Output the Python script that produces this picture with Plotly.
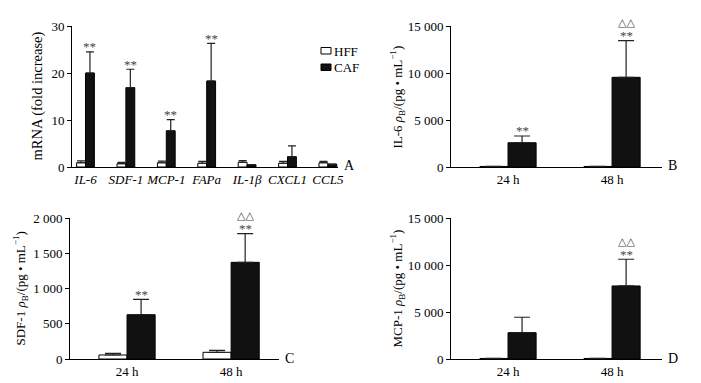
import plotly.graph_objects as go

W, H = 701, 383

# ---------------- data ----------------
genes = ["IL-6", "SDF-1", "MCP-1", "FAPa", "IL-1β", "CXCL1", "CCL5"]
hff_mrna = [0.9, 0.7, 0.9, 0.8, 1.0, 0.8, 0.9]
hff_mrna_err = [0.4, 0.3, 0.35, 0.4, 0.35, 0.4, 0.3]
caf_mrna = [20.0, 16.9, 7.7, 18.3, 0.5, 2.2, 0.6]
caf_mrna_err = [4.5, 3.9, 2.4, 8.0, 0.0, 2.3, 0.0]
sig_mrna = ["**", "**", "**", "**", "", "", ""]
mrna_ticks = [0, 10, 20, 30]

times = ["24 h", "48 h"]
il6_hff = [60, 60]
il6_hff_err = [0, 0]
il6_caf = [2580, 9540]
il6_caf_err = [720, 3900]
il6_sig = ["**", "**"]
il6_sig2 = ["", "△△"]

sdf1_hff = [57, 95]
sdf1_hff_err = [23, 28]
sdf1_caf = [628, 1371]
sdf1_caf_err = [219, 407]
sdf1_sig = ["**", "**"]
sdf1_sig2 = ["", "△△"]

mcp1_hff = [60, 60]
mcp1_hff_err = [0, 0]
mcp1_caf = [2800, 7770]
mcp1_caf_err = [1640, 2840]
mcp1_sig = ["", "**"]
mcp1_sig2 = ["", "△△"]

conc_ticks = [0, 5000, 10000, 15000]
conc_ticktext = ["0", "5 000", "10 000", "15 000"]
sdf_ticks = [0, 500, 1000, 1500, 2000]
sdf_ticktext = ["0", "500", "1 000", "1 500", "2 000"]

series_names = ["HFF", "CAF"]

FONT = "Liberation Serif"
SIGC = "#444444"

fig = go.Figure()


def px_x(p):
    return p / W


def px_y(p):
    return 1 - p / H


panels = [
    dict(cats=genes, hff=hff_mrna, hffe=hff_mrna_err, caf=caf_mrna, cafe=caf_mrna_err,
         sig=sig_mrna, sig2=[""] * 7, xd=(72, 338), yd=(26, 167), w=0.22,
         xr=[-0.334, 6.25], yr=[0, 30], tv=mrna_ticks, tt=[str(t) for t in mrna_ticks],
         letter="A", cap=4, title="mRNA (fold increase)", tx=37, tsize=14.5, italic=True),
    dict(cats=times, hff=il6_hff, hffe=il6_hff_err, caf=il6_caf, cafe=il6_caf_err,
         sig=il6_sig, sig2=il6_sig2, xd=(451, 662), yd=(26, 167), w=0.27,
         xr=[-0.548, 1.48], yr=[0, 15000], tv=conc_ticks, tt=conc_ticktext,
         letter="B", cap=8, title="IL-6 <i>ρ</i><sub>B</sub>/(pg • mL<sup>−1</sup>)", tx=397,
         tsize=13, italic=False),
    dict(cats=times, hff=sdf1_hff, hffe=sdf1_hff_err, caf=sdf1_caf, cafe=sdf1_caf_err,
         sig=sdf1_sig, sig2=sdf1_sig2, xd=(70, 279), yd=(218, 359), w=0.27,
         xr=[-0.548, 1.46], yr=[0, 2000], tv=sdf_ticks, tt=sdf_ticktext,
         letter="C", cap=8, title="SDF-1 <i>ρ</i><sub>B</sub>/(pg • mL<sup>−1</sup>)", tx=20,
         tsize=13, italic=False),
    dict(cats=times, hff=mcp1_hff, hffe=mcp1_hff_err, caf=mcp1_caf, cafe=mcp1_caf_err,
         sig=mcp1_sig, sig2=mcp1_sig2, xd=(451, 662), yd=(218, 359), w=0.27,
         xr=[-0.548, 1.48], yr=[0, 15000], tv=conc_ticks, tt=conc_ticktext,
         letter="D", cap=8, title="MCP-1 <i>ρ</i><sub>B</sub>/(pg • mL<sup>−1</sup>)", tx=397,
         tsize=13, italic=False),
]

annotations = []
layout_axes = {}

for k, p in enumerate(panels):
    n = k + 1
    xa = "x" if n == 1 else f"x{n}"
    ya = "y" if n == 1 else f"y{n}"
    w = p["w"]
    n_cat = len(p["cats"])
    fig.add_trace(go.Bar(
        x=p["cats"], y=p["hff"], name=series_names[0], width=w, offset=-w,
        marker=dict(color="white", line=dict(color="black", width=1)),
        error_y=dict(type="data", array=p["hffe"], arrayminus=[0] * n_cat, symmetric=False,
                     color="#222222", thickness=1.2, width=p["cap"]),
        xaxis=xa, yaxis=ya, showlegend=False, cliponaxis=False,
    ))
    fig.add_trace(go.Bar(
        x=p["cats"], y=p["caf"], name=series_names[1], width=w, offset=0,
        marker=dict(color="#111111", line=dict(color="black", width=1)),
        error_y=dict(type="data", array=p["cafe"], arrayminus=[0] * n_cat, symmetric=False,
                     color="#222222", thickness=1.2, width=p["cap"]),
        xaxis=xa, yaxis=ya, showlegend=False, cliponaxis=False,
    ))
    xkey = "xaxis" if n == 1 else f"xaxis{n}"
    ykey = "yaxis" if n == 1 else f"yaxis{n}"
    layout_axes[xkey] = dict(
        domain=[px_x(p["xd"][0]), px_x(p["xd"][1])], anchor=ya, type="category",
        range=p["xr"], showline=True, linecolor="black", linewidth=1, ticks="",
        showgrid=False, zeroline=False, automargin=False,
        tickfont=dict(family=FONT, size=13, color="black", style="italic" if p["italic"] else "normal"),
    )
    layout_axes[ykey] = dict(
        domain=[px_y(p["yd"][1]), px_y(p["yd"][0])], anchor=xa, range=p["yr"],
        showline=True, linecolor="black", linewidth=1, ticks="outside", ticklen=4,
        tickcolor="black", tickwidth=1, showgrid=False, zeroline=False, automargin=False,
        tickmode="array", tickvals=p["tv"], ticktext=p["tt"],
        tickfont=dict(family=FONT, size=13, color="black"),
    )
    for i in range(n_cat):
        top = p["caf"][i] + p["cafe"][i]
        if p["sig"][i]:
            annotations.append(dict(x=i + w / 2, y=top, xref=xa, yref=ya, text=p["sig"][i],
                                    showarrow=False, yanchor="middle", yshift=5,
                                    font=dict(family=FONT, size=13, color=SIGC)))
        if p["sig2"][i]:
            annotations.append(dict(x=i + w / 2, y=top, xref=xa, yref=ya, text=p["sig2"][i],
                                    showarrow=False, yanchor="middle", yshift=18,
                                    font=dict(family="DejaVu Sans", size=11, color=SIGC)))
    annotations.append(dict(x=px_x(p["xd"][1] + 4), y=px_y(p["yd"][1] - 1), xref="paper", yref="paper",
                            text=p["letter"], showarrow=False, xanchor="left", yanchor="middle",
                            font=dict(family=FONT, size=14, color="black")))
    annotations.append(dict(x=px_x(p["tx"]), y=px_y((p["yd"][0] + p["yd"][1]) / 2), xref="paper",
                            yref="paper", text=p["title"], showarrow=False, textangle=-90,
                            xanchor="center", yanchor="middle",
                            font=dict(family=FONT, size=p["tsize"], color="black")))

shapes = [
    dict(type="rect", xref="paper", yref="paper", x0=px_x(321), x1=px_x(331), y0=px_y(54), y1=px_y(47.5),
         line=dict(color="black", width=1), fillcolor="white"),
    dict(type="rect", xref="paper", yref="paper", x0=px_x(321), x1=px_x(331), y0=px_y(70.5), y1=px_y(64),
         line=dict(color="black", width=1), fillcolor="#111111"),
]
annotations.append(dict(x=px_x(332), y=px_y(51), xref="paper", yref="paper", text=series_names[0],
                        showarrow=False, xanchor="left", yanchor="middle",
                        font=dict(family=FONT, size=13, color="black")))
annotations.append(dict(x=px_x(332), y=px_y(67.5), xref="paper", yref="paper", text=series_names[1],
                        showarrow=False, xanchor="left", yanchor="middle",
                        font=dict(family=FONT, size=13, color="black")))

fig.update_layout(
    template="none",
    width=W, height=H, margin=dict(l=0, r=0, t=0, b=0, autoexpand=False),
    paper_bgcolor="white", plot_bgcolor="white", barmode="overlay",
    font=dict(family=FONT, size=13, color="black"),
    annotations=annotations, shapes=shapes, showlegend=False,
    **layout_axes,
)

fig.write_html("out.html", config={"displayModeBar": False},
               post_script="document.body.style.margin='0';document.body.style.padding='0';")
